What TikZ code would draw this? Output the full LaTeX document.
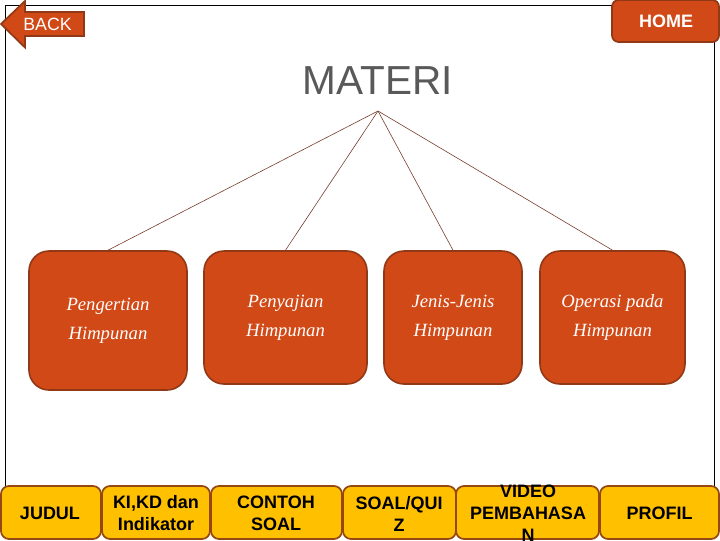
\documentclass[tikz,border=0pt]{standalone}
\usepackage{fontspec}
\setmainfont{Liberation Sans}
\newfontfamily\handfont[ItalicFont=Liberation Serif Italic]{Liberation Serif}
\usepackage{tikz}
\definecolor{rustfill}{RGB}{209,73,22}
\definecolor{rustline}{RGB}{145,56,22}
\definecolor{goldfill}{RGB}{255,192,0}
\definecolor{goldline}{RGB}{150,72,18}
\definecolor{titlegray}{RGB}{89,89,89}
\definecolor{linkline}{RGB}{120,62,44}
\tikzset{
	topicbox/.style={draw=rustline,fill=rustfill,line width=1.2pt,rounded corners=15pt,inner sep=0pt,align=center,text=white,font=\handfont\itshape\fontsize{14}{22}\selectfont},
	menubox/.style={draw=goldline,fill=goldfill,line width=1.3pt,rounded corners=6pt,inner sep=0pt,minimum height=39.75pt},
	menutext/.style={inner sep=0pt,align=center,font=\bfseries\fontsize{13.5}{16.5}\selectfont},
	navtext/.style={inner sep=0pt,text=white},
	linkline/.style={draw=linkline,line width=0.45pt}
}

\begin{document}
\begin{tikzpicture}[x=0.75pt,y=0.75pt,yscale=-1,xscale=1]
	\useasboundingbox (0,0) rectangle (720,540);
	
	% Frame
	\draw [line width=0.8pt] (5.5,5.3) rectangle (714.5,500);
	
	% Back arrow
	\draw [draw=rustline,fill=rustfill,line width=1.3pt,line join=miter] (1,24) -- (25,1) -- (25,12) -- (84,12) -- (84,36) -- (25,36) -- (25,47.5) -- cycle;
	\node (back) [navtext,font=\fontsize{13.3}{15}\selectfont] at (47.5,24.5) {BACK};
	
	% Home button
	\node (home) [draw=rustline,fill=rustfill,line width=1.3pt,rounded corners=5pt,minimum width=80.25pt,minimum height=31.5pt,navtext,font=\bfseries\fontsize{13.5}{15}\selectfont] at (665.5,21) {};
	\node (hometext) [navtext,font=\bfseries\fontsize{13.5}{15}\selectfont] at (666,21.5) {HOME};
	
	% Title
	\node (materi) [inner sep=0pt,text=titlegray,font=\fontsize{30.4}{34}\selectfont] at (377.5,81) {MATERI};
	\coordinate (apex) at (378,111);
	
	% Topic boxes
	\node (pengertian) [topicbox,minimum width=118.5pt,minimum height=104.25pt] at (108,320.5) {Pengertian\\Himpunan};
	\node (penyajian) [topicbox,minimum width=122.25pt,minimum height=99.75pt] at (285.5,317.5) {Penyajian\\Himpunan};
	\node (jenis) [topicbox,minimum width=103.5pt,minimum height=99.75pt] at (453,317.5) {Jenis-Jenis\\Himpunan};
	\node (operasi) [topicbox,minimum width=108.75pt,minimum height=99.75pt] at (612.5,317.5) {Operasi pada\\Himpunan};
	
	% Straight Lines
	\draw [linkline] (apex) -- (pengertian.north);
	\draw [linkline] (apex) -- (penyajian.north);
	\draw [linkline] (apex) -- (jenis.north);
	\draw [linkline] (apex) -- (operasi.north);
	
	% Menu bar
	\node (judul) [menubox,minimum width=75pt] at (51,512.5) {};
	\node (kikd) [menubox,minimum width=81pt] at (156,512.5) {};
	\node (contoh) [menubox,minimum width=98.25pt] at (276.5,512.5) {};
	\node (soal) [menubox,minimum width=84.75pt] at (399.5,512.5) {};
	\node (video) [menubox,minimum width=107.25pt] at (527.5,512.5) {};
	\node (profil) [menubox,minimum width=89.25pt] at (659.5,512.5) {};
	
	% Text Node
	\node (judultext) [menutext] at (50,513.5) {JUDUL};
	\node (kikdtext) [menutext] at (156,513.5) {KI,KD dan\\Indikator};
	\node (contohtext) [menutext] at (276,513.5) {CONTOH\\SOAL};
	\node (soaltext) [menutext] at (399,513.5) {SOAL/QUI\\Z};
	\node (videotext) [menutext] at (528,513.5) {VIDEO\\PEMBAHASA\\N};
	\node (profiltext) [menutext] at (659.5,513.5) {PROFIL};
	
\end{tikzpicture}
\end{document}
